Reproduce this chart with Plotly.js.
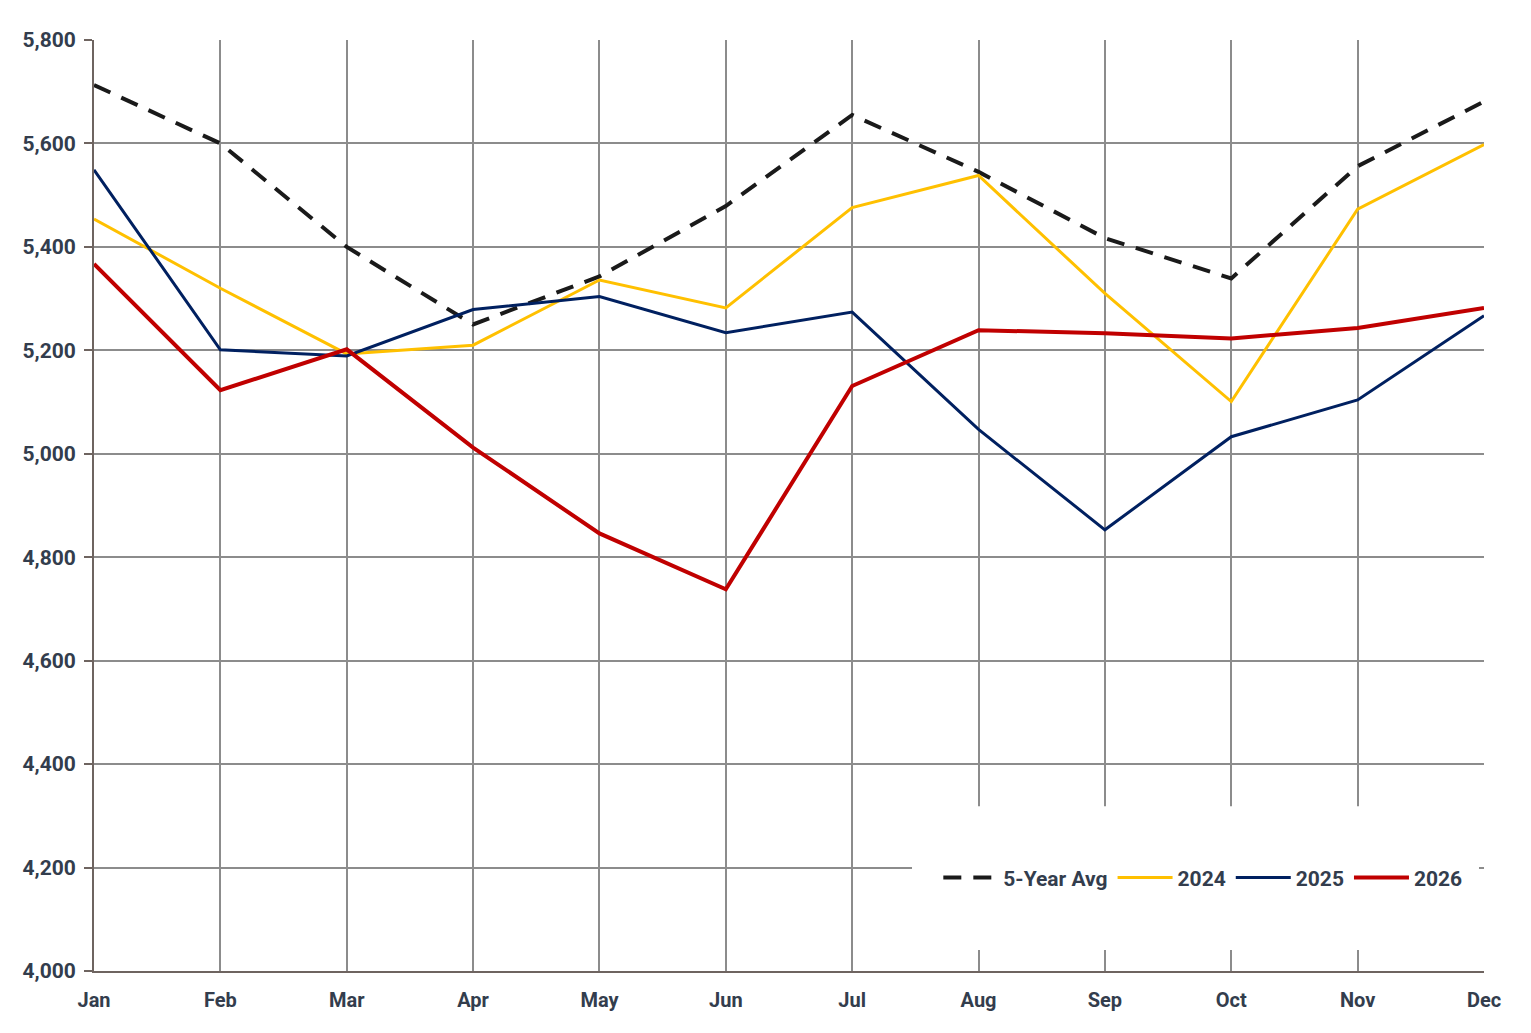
<!DOCTYPE html>
<html>
<head>
<meta charset="utf-8">
<script src="https://cdn.plot.ly/plotly-3.0.1.min.js"></script>
<style>
  html, body { margin: 0; padding: 0; background: #ffffff; }
  #chart { width: 1531px; height: 1033px; }
</style>
</head>
<body>
<div id="chart"></div>
<script>
const months = ["Jan","Feb","Mar","Apr","May","Jun","Jul","Aug","Sep","Oct","Nov","Dec"];
const avg5yr = [5713, 5600, 5400, 5250, 5343, 5479, 5655, 5545, 5417, 5339, 5556, 5681];
const y2024  = [5454, 5320, 5193, 5210, 5336, 5282, 5476, 5538, 5310, 5101, 5473, 5598];
const y2025  = [5549, 5201, 5189, 5279, 5304, 5234, 5274, 5047, 4853, 5033, 5104, 5267];
const y2026  = [5367, 5123, 5202, 5012, 4846, 4738, 5131, 5239, 5233, 5223, 5243, 5282];

const labelColor = "#333d4d";
const fontFam = "Roboto, 'Noto Sans', sans-serif";

const traces = [
  { x: months, y: avg5yr, name: "5-Year Avg", type: "scatter", mode: "lines",
    line: { color: "#1a1a1a", width: 4, dash: "18px,12px" } },
  { x: months, y: y2024, name: "2024", type: "scatter", mode: "lines",
    line: { color: "#FFC000", width: 3 } },
  { x: months, y: y2025, name: "2025", type: "scatter", mode: "lines",
    line: { color: "#002060", width: 3 } },
  { x: months, y: y2026, name: "2026", type: "scatter", mode: "lines",
    line: { color: "#C00000", width: 4 } }
];

const layout = {
  width: 1531, height: 1033,
  margin: { l: 94, r: 47, t: 40, b: 62 },
  paper_bgcolor: "#ffffff", plot_bgcolor: "#ffffff",
  font: { family: fontFam, color: labelColor, size: 20 },
  showlegend: true,
  legend: {
    orientation: "h", x: 0.988, xanchor: "right", y: 0.1, yanchor: "middle",
    bgcolor: "rgba(255,255,255,0)", borderwidth: 0,
    font: { family: fontFam, size: 21, color: labelColor, weight: "bold" },
    itemwidth: 55, traceorder: "normal"
  },
  shapes: [{
    type: "rect", xref: "paper", yref: "paper", layer: "above",
    x0: 0.5885, x1: 0.9964, y0: 0.0226, y1: 0.177,
    fillcolor: "#ffffff", line: { width: 0 }
  }],
  xaxis: {
    type: "category", categoryorder: "array", categoryarray: months,
    range: [0, 11], showgrid: true, gridcolor: "#8c8c8c", gridwidth: 2,
    showline: true, linecolor: "#6e6460", linewidth: 2,
    ticks: "", ticklabelstandoff: 10,
    tickfont: { family: fontFam, size: 20, color: labelColor, weight: "bold" },
    zeroline: false, fixedrange: true
  },
  yaxis: {
    range: [4000, 5800], dtick: 200, tick0: 4000, tickformat: ",d",
    showgrid: true, gridcolor: "#8c8c8c", gridwidth: 2,
    showline: true, linecolor: "#6e6460", linewidth: 2,
    ticks: "outside", ticklen: 8, tickcolor: "#6e6460", tickwidth: 2,
    ticklabelstandoff: 4,
    tickfont: { family: fontFam, size: 21, color: labelColor, weight: "bold" },
    zeroline: false, fixedrange: true
  }
};

Plotly.newPlot("chart", traces, layout, { displayModeBar: false, staticPlot: true });
</script>
</body>
</html>
